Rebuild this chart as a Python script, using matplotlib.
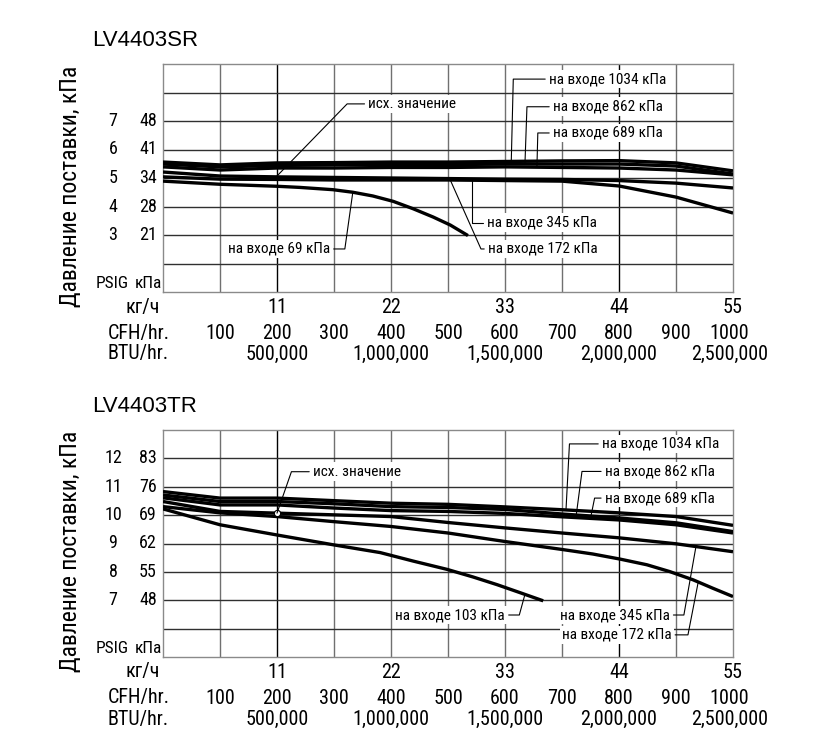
import numpy as np
import matplotlib
matplotlib.use('Agg')
import matplotlib.pyplot as plt
from matplotlib import font_manager, transforms

# ---- data ----
cfh_grid = [0, 100, 200, 300, 400, 500, 600, 700, 800, 900, 1000]

# LV4403SR, outlet pressure in PSIG
sr_1034 = [5.56, 5.46, 5.53, 5.54, 5.56, 5.56, 5.58, 5.60, 5.61, 5.53, 5.25]
sr_862 = [5.49, 5.39, 5.44, 5.46, 5.47, 5.47, 5.49, 5.49, 5.49, 5.42, 5.14]
sr_689 = [5.39, 5.28, 5.35, 5.35, 5.37, 5.37, 5.39, 5.37, 5.35, 5.28, 5.11]
sr_345 = [5.21, 5.07, 5.04, 5.02, 5.00, 4.98, 4.96, 4.95, 4.91, 4.82, 4.65]
sr_172 = [5.04, 4.96, 4.95, 4.93, 4.93, 4.93, 4.91, 4.89, 4.72, 4.33, 3.77]
sr_69_cfh = [0, 100, 200, 240, 298, 333, 368, 404, 439, 474, 504, 535]
sr_69 = [4.89, 4.78, 4.71, 4.67, 4.59, 4.50, 4.37, 4.18, 3.92, 3.63, 3.35, 2.98]
sr_ref = (200, 5.07)

# LV4403TR
tr_1034 = [10.83, 10.60, 10.60, 10.51, 10.42, 10.38, 10.29, 10.19, 10.08, 9.95, 9.64]
tr_862 = [10.71, 10.48, 10.48, 10.40, 10.30, 10.27, 10.20, 10.04, 9.90, 9.73, 9.42]
tr_689 = [10.61, 10.36, 10.36, 10.25, 10.16, 10.13, 10.06, 9.94, 9.83, 9.66, 9.37]
tr_345 = [10.48, 10.13, 10.07, 10.01, 9.95, 9.74, 9.55, 9.37, 9.20, 8.99, 8.71]
tr_172_cfh = [0, 100, 200, 300, 400, 500, 600, 700, 754, 802, 849, 889, 930, 965, 1000]
tr_172 = [10.30, 10.08, 9.95, 9.77, 9.60, 9.37, 9.07, 8.79, 8.63, 8.45, 8.25, 8.01, 7.72, 7.42, 7.13]
tr_103_cfh = [0, 100, 200, 300, 381, 439, 498, 544, 586, 626, 667]
tr_103 = [10.22, 9.66, 9.30, 8.95, 8.68, 8.38, 8.09, 7.82, 7.55, 7.27, 6.98]
tr_ref = (200, 10.07)

sr_psi_ticks = [3, 4, 5, 6, 7]
sr_kpa_ticks = ['21', '28', '34', '41', '48']
tr_psi_ticks = [7, 8, 9, 10, 11, 12]
tr_kpa_ticks = ['48', '55', '62', '69', '76', '83']

kg_pos = [200, 400, 600, 800, 1000]
kg_labels = ['11', '22', '33', '44', '55']
cfh_ticks = [100, 200, 300, 400, 500, 600, 700, 800, 900, 1000]
btu_pos = [200, 400, 600, 800, 1000]
btu_labels = ['500,000', '1,000,000', '1,500,000', '2,000,000', '2,500,000']

# ---- fonts ----
names = {f.name for f in font_manager.fontManager.ttflist}
narrow = {'family': 'DejaVu Sans', 'stretch': 'normal'}
for cand in ['Liberation Sans Narrow', 'Roboto Condensed', 'Open Sans Condensed', 'Noto Sans Condensed']:
    if cand in names:
        narrow = {'family': cand, 'stretch': 'normal'}
        break
else:
    if any(f.name == 'DejaVu Sans' and f.stretch == 'condensed' for f in font_manager.fontManager.ttflist):
        narrow = {'family': 'DejaVu Sans', 'stretch': 'condensed'}
title_font = 'Liberation Sans' if 'Liberation Sans' in names else 'DejaVu Sans'

W, H = 820, 753
fig = plt.figure(figsize=(W / 100, H / 100), dpi=100)


def fx(px):
    return px / W


def fy(py):
    return 1 - py / H


def draw_panel(top_px, bot_px, ylim, curves, ref, show_ref, labels, psi_ticks, kpa_ticks, title, ref_label):
    ax = fig.add_axes([fx(163), fy(bot_px), fx(733) - fx(163), fy(top_px) - fy(bot_px)])
    ax.set_xlim(0, 1000)
    ax.set_ylim(*ylim)
    ax.set_xticks([])
    ax.set_yticks([])
    for s in ax.spines.values():
        s.set_color('#8a8a8a')
        s.set_linewidth(1.0)

    # grid
    for c in cfh_ticks[:-1]:
        col = 'black' if c in (200, 800) else '#707070'
        ax.axvline(c, color=col, lw=1.0, zorder=1)
    for p in range(ylim[0] + 1, ylim[1]):
        ax.axhline(p, color='#303030', lw=1.0, zorder=1)

    # curves
    for cx, cy in curves.values():
        ax.plot(cx, cy, color='black', lw=2.4, solid_capstyle='butt', solid_joinstyle='round', zorder=3)
    if show_ref:
        ax.plot(ref[0], ref[1], 'o', ms=4.5, mfc='white', mec='black', mew=0.8, zorder=4)

    arrow = dict(arrowstyle='-', lw=0.8, color='black', shrinkA=1, shrinkB=0)
    for key, tx, lx, ly, ha, ang in labels:
        cx, cy = curves[key]
        ax.annotate('на входе %s кПа' % key, xy=(tx, np.interp(tx, cx, cy)), xytext=(lx, ly),
                    ha=ha, va='center', fontsize=11, family=narrow['family'], fontstretch=narrow['stretch'],
                    bbox=dict(boxstyle='square,pad=0.15', fc='white', ec='none'),
                    arrowprops=dict(connectionstyle='angle,angleA=0,angleB=%g,rad=0' % ang, **arrow),
                    zorder=5)
    lx, ly, ang = ref_label
    ax.annotate('исх. значение', xy=ref, xytext=(lx, ly), ha='left', va='center',
                fontsize=11, family=narrow['family'], fontstretch=narrow['stretch'],
                bbox=dict(boxstyle='square,pad=0.15', fc='white', ec='none'),
                arrowprops=dict(connectionstyle='angle,angleA=0,angleB=%g,rad=0' % ang, **arrow),
                zorder=5)

    # y tick labels, two columns
    tr = transforms.blended_transform_factory(fig.transFigure, ax.transData)
    tk = dict(fontsize=13, family=narrow['family'], fontstretch=narrow['stretch'], va='center', ha='center')
    for p, k in zip(psi_ticks, kpa_ticks):
        fig.text(fx(113), p, str(p), transform=tr, **tk)
        fig.text(fx(148), p, k, transform=tr, **tk)
    tk['fontsize'] = 12.5
    fig.text(fx(112), ylim[0] + 0.3, 'PSIG', transform=tr, **tk)
    fig.text(fx(148), ylim[0] + 0.3, 'кПа', transform=tr, **tk)

    # x tick rows
    xl = dict(fontsize=14.5, family=narrow['family'], fontstretch=narrow['stretch'], va='center')
    trx = transforms.blended_transform_factory(ax.transData, fig.transFigure)
    fig.text(fx(160), fy(bot_px + 15), 'кг/ч', ha='right', **xl)
    for p, t in zip(kg_pos, kg_labels):
        fig.text(p, fy(bot_px + 15), t, transform=trx, ha='center', **xl)
    fig.text(fx(108), fy(bot_px + 41), 'CFH/hr.', ha='left', **xl)
    for c in cfh_ticks:
        fig.text(c - (6 if c == 1000 else 0), fy(bot_px + 41), str(c), transform=trx, ha='center', **xl)
    fig.text(fx(108), fy(bot_px + 62), 'BTU/hr.', ha='left', **xl)
    for p, t in zip(btu_pos, btu_labels):
        fig.text(p - (6 if p == 1000 else 0), fy(bot_px + 62), t, transform=trx, ha='center', **xl)

    fig.text(fx(92), fy(top_px - 24), title, ha='left', va='center', fontsize=16, family=title_font)
    fig.text(fx(71), fy((top_px + bot_px) / 2 + 8), 'Давление поставки, кПа', rotation=90,
             ha='center', va='center', fontsize=17, family=narrow['family'], fontstretch=narrow['stretch'])
    return ax


sr_curves = {
    '1034': (cfh_grid, sr_1034),
    '862': (cfh_grid, sr_862),
    '689': (cfh_grid, sr_689),
    '345': (cfh_grid, sr_345),
    '172': (cfh_grid, sr_172),
    '69': (sr_69_cfh, sr_69),
}
sr_labels = [
    ('1034', 611, 677, 8.47, 'left', 88.6),
    ('862', 635, 684, 7.50, 'left', 88),
    ('689', 656, 684, 6.58, 'left', 88.5),
    ('345', 542, 568, 3.43, 'left', 90),
    ('172', 504, 570, 2.51, 'left', 114),
    ('69', 333, 293, 2.51, 'right', 82),
]
draw_panel(64, 292, (1, 9), sr_curves, sr_ref, False, sr_labels, sr_psi_ticks, sr_kpa_ticks,
           'LV4403SR', (360, 7.60, 45.8))

tr_curves = {
    '1034': (cfh_grid, tr_1034),
    '862': (cfh_grid, tr_862),
    '689': (cfh_grid, tr_689),
    '345': (cfh_grid, tr_345),
    '172': (tr_172_cfh, tr_172),
    '103': (tr_103_cfh, tr_103),
}
tr_labels = [
    ('1034', 707, 770, 12.51, 'left', 87),
    ('862', 725, 775, 11.54, 'left', 82.5),
    ('689', 750, 775, 10.60, 'left', 78.6),
    ('345', 935, 889, 6.48, 'right', 80),
    ('172', 939, 892, 5.78, 'right', 79),
    ('103', 635, 600, 6.48, 'right', 74.7),
]
draw_panel(430, 657, (5, 13), tr_curves, tr_ref, True, tr_labels, tr_psi_ticks, tr_kpa_ticks,
           'LV4403TR', (263, 11.53, 70.8))

fig.savefig('out.png', dpi=100)
